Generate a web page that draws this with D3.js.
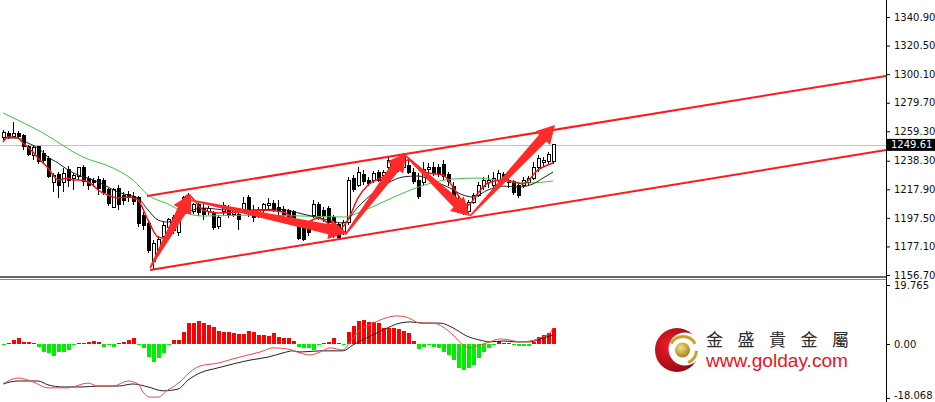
<!DOCTYPE html>
<html><head><meta charset="utf-8">
<script src="https://cdn.jsdelivr.net/npm/d3@7"></script>
<style>html,body{margin:0;padding:0;background:#fff;overflow:hidden}</style>
</head><body>
<svg id="c" width="935" height="402"></svg>
<script>
// ---------- DATA ----------
const open = [1255.2,1257.4,1255.9,1257.4,1256.6,1248.1,1241.7,1248.1,1243.8,1240.2,
1222.4,1228.1,1222.4,1231.7,1225.9,1226.7,1233.1,1225.9,1224.5,1225.2,
1224.5,1217.4,1205.2,1218.8,1213.8,1214.5,1213.1,1211.7,1199.5,1193.8,
1166.0,1174.5,1184.5,1190.3,1197.4,1187.4,1204.5,1213.8,1201.7,1206.7,
1204.5,1201.7,1201.0,1191.0,1201.7,1204.5,1200.2,1200.2,1202.4,1211.7,
1203.1,1199.5,1203.1,1206.0,1208.1,1205.2,1203.8,1202.4,1201.7,1193.8,
1192.4,1191.0,1199.5,1206.7,1203.1,1204.5,1198.1,1192.4,1187.4,1194.5,
1225.9,1220.9,1228.8,1224.5,1224.5,1230.2,1227.4,1233.1,1234.5,1231.7,
1233.1,1235.2,1230.2,1224.5,1222.4,1231.7,1233.8,1233.1,1235.9,1228.1,
1220.2,1210.2,1208.1,1201.7,1208.8,1213.8,1220.2,1222.4,1220.9,1224.5,
1228.1,1224.5,1223.1,1220.9,1220.9,1222.4,1225.9,1233.1,1236.7,1237.4,
1237.4];
const high = [1260.2,1259.5,1265.9,1259.5,1257.4,1249.5,1248.8,1248.8,1245.9,1241.7,
1229.5,1230.2,1233.1,1234.5,1229.5,1233.8,1235.2,1227.4,1225.9,1227.4,
1225.9,1218.8,1218.8,1220.9,1215.9,1216.7,1215.9,1213.1,1201.7,1195.2,
1181.7,1184.5,1194.5,1197.4,1199.5,1203.1,1213.1,1215.2,1208.1,1208.8,
1207.4,1206.0,1202.4,1199.5,1208.8,1206.7,1205.2,1203.1,1212.4,1213.8,
1206.7,1205.2,1208.1,1211.7,1210.2,1210.2,1206.0,1203.8,1203.1,1195.2,
1194.5,1192.4,1210.2,1208.8,1205.2,1206.0,1199.5,1194.5,1196.0,1226.7,
1228.1,1233.8,1231.7,1226.7,1230.9,1231.7,1231.7,1240.9,1238.8,1240.9,
1243.8,1240.2,1233.1,1229.5,1237.4,1236.7,1237.4,1235.9,1238.8,1230.2,
1223.1,1212.4,1210.2,1210.2,1215.2,1223.1,1226.7,1228.1,1230.2,1231.7,
1230.2,1226.7,1224.5,1223.1,1226.7,1227.4,1237.4,1242.4,1240.9,1244.5,
1250.2];
const low = [1253.1,1253.8,1254.5,1253.8,1245.9,1241.7,1238.8,1235.9,1236.7,1225.9,
1215.9,1211.7,1215.9,1219.5,1217.4,1224.5,1220.2,1217.4,1219.5,1213.8,
1213.8,1206.0,1204.5,1203.1,1206.7,1208.8,1206.7,1191.0,1188.8,1172.4,
1160.3,1170.3,1183.1,1188.8,1186.0,1184.5,1203.1,1200.2,1200.2,1198.8,
1196.0,1199.5,1188.8,1189.5,1199.5,1197.4,1198.1,1188.8,1201.0,1198.1,
1194.5,1197.4,1201.0,1203.1,1201.7,1197.4,1196.0,1193.8,1193.1,1181.7,
1181.0,1184.5,1197.4,1196.0,1194.5,1192.4,1183.1,1181.7,1185.3,1192.4,
1215.9,1219.5,1220.9,1220.2,1222.4,1223.1,1225.9,1231.7,1228.8,1230.2,
1231.7,1228.8,1221.7,1210.9,1220.2,1228.8,1227.4,1226.7,1224.5,1220.2,
1208.8,1202.4,1199.5,1199.5,1207.4,1212.4,1217.4,1218.8,1218.8,1223.1,
1224.5,1218.8,1213.8,1211.7,1218.8,1220.2,1224.5,1230.2,1234.5,1235.2,
1235.9];
const close = [1258.1,1255.2,1257.4,1255.9,1248.1,1242.4,1247.4,1237.4,1238.8,1226.7,
1227.4,1220.9,1229.5,1224.5,1227.4,1233.1,1223.1,1220.9,1222.4,1218.8,
1215.9,1208.1,1217.4,1206.7,1210.2,1211.7,1209.5,1193.8,1191.7,1174.5,
1179.5,1181.7,1191.7,1196.0,1188.8,1201.7,1211.7,1201.7,1206.7,1201.0,
1200.2,1204.5,1190.3,1197.4,1206.0,1199.5,1203.8,1196.0,1208.1,1201.0,
1197.4,1203.1,1206.7,1208.1,1203.1,1201.7,1199.5,1197.4,1196.0,1183.1,
1181.7,1187.4,1206.7,1197.4,1199.5,1194.5,1185.3,1183.8,1194.5,1224.5,
1218.1,1230.2,1223.1,1221.7,1229.5,1224.5,1230.2,1238.8,1230.2,1237.4,
1242.4,1230.2,1223.1,1212.4,1231.7,1233.8,1229.5,1229.5,1226.7,1223.1,
1210.2,1204.5,1201.0,1208.8,1213.8,1220.9,1224.5,1224.5,1225.9,1229.5,
1225.9,1222.4,1215.9,1213.8,1224.5,1225.9,1233.8,1240.2,1238.8,1242.4,
1249.61];

// moving averages (bar index, price)
const maRedIdx = [0,1,3,4,6,7,9,10,11,13,14,15,17,18,19,21,22,23,25,26,27,29,31,32,34,35,37,40,43,47,52,56,60,63,66,67,69,71,73,76,79,81,83,85,88,90,92,93,95,97,100,103,104,107,110];
const maRedVal = [1251.6,1255.2,1254.5,1250.9,1244.5,1240.2,1233.1,1228.1,1224.5,1225.9,1224.5,1224.5,1223.1,1220.9,1217.4,1213.8,1212.4,1211.7,1212.4,1211.7,1210.2,1196.0,1183.8,1183.1,1192.4,1203.1,1213.8,1203.1,1201.0,1201.7,1203.1,1201.7,1193.1,1197.4,1191.0,1188.8,1196.0,1211.7,1220.9,1226.7,1233.8,1238.8,1233.1,1229.5,1228.1,1219.5,1208.8,1206.7,1215.2,1222.4,1224.5,1222.4,1221.7,1231.7,1236.7];
const maBlackIdx = [0,3,5,7,9,11,13,15,17,19,21,23,25,27,29,31,33,35,37,40,45,50,55,60,65,68,71,74,77,80,83,86,89,92,94,97,100,103,106,108,110];
const maBlackVal = [1254.5,1254.5,1250.9,1247.4,1240.9,1236.7,1231.7,1228.1,1225.9,1223.1,1219.5,1215.9,1213.8,1211.7,1203.1,1196.0,1194.5,1197.4,1201.7,1204.5,1203.1,1203.1,1203.8,1200.2,1196.0,1193.8,1205.2,1215.2,1222.4,1226.7,1227.4,1223.8,1219.5,1213.8,1212.4,1217.4,1220.2,1219.5,1221.7,1225.9,1230.2];
const maGreenIdx = [0,8,16,22,26,29,33,36,40,50,60,68,72,76,80,85,90,95,100,105,110];
const maGreenVal = [1272.4,1258.1,1240.9,1233.1,1224.5,1213.8,1207.4,1201.7,1198.8,1199.5,1198.8,1198.1,1202.4,1208.8,1215.2,1221.7,1225.2,1225.9,1223.8,1222.4,1223.8];

const lastPrice = 1249.61;
const priceTicks = [1340.90,1320.50,1300.10,1279.70,1259.30,1238.30,1217.90,1197.50,1177.10,1156.70];

// trend channel and arrows (bar index, price)
const channelUpper = [[28.8,1213.1],[176.6,1298.8]];
const channelLower = [[29.4,1160.3],[176.6,1245.9]];
const arrowPaths = [
  [[29.4,1161.7],[37.6,1214.5]],
  [[37.4,1210.2],[68.8,1186.7]],
  [[68.4,1185.3],[80.6,1243.8]],
  [[80.4,1242.4],[93.4,1198.8]],
  [[93.4,1198.8],[110.4,1263.8]]
];

// MACD panel
const macdHist = [-0.4,0.4,1.3,2.0,0.8,0.8,0.4,-0.9,-2.6,-2.9,
-4.0,-2.6,-2.6,-2.0,-0.4,0.4,0.4,0.7,1.1,0.7,
-0.9,-0.4,-0.9,0.4,0.8,1.3,1.9,-0.4,-1.5,-4.5,
-5.9,-4.8,-3.1,-0.4,1.3,1.3,4.1,7.1,7.1,7.7,
7.1,6.4,5.8,4.5,4.1,4.1,3.6,3.2,3.2,4.4,
3.9,3.0,3.0,2.8,3.8,2.5,2.1,1.9,1.1,-0.9,
-1.5,-1.5,-2.0,-0.4,0.4,0.8,1.9,0.4,-0.4,4.1,
6.1,7.8,8.0,7.5,7.3,7.1,5.2,5.2,5.5,4.9,
4.5,3.6,1.1,-1.8,-0.9,-0.4,-0.9,-1.5,-2.6,-3.7,
-5.4,-8.1,-8.7,-8.1,-7.0,-4.8,-2.6,-1.5,-0.4,1.0,
0.4,0.4,-0.4,-0.7,-0.7,-0.7,0.8,2.5,3.0,3.8,
5.5];
const macdRedIdx = [0,3,6,9,13,17,19,22,25,27,28,29.4,31,33,34,35.4,37.4,39.4,43,46,49,51.4,54,57,59.4,61.4,63.4,65.4,68,69.4,71.4,73.4,76,78.7,80.7,82,83.4,86,88,90,92,93.4,95.4,97.4,99.4,101.4,103.4,105.4,107.4,109.4,110];
const macdRedVal = [-13.4,-11.4,-12.7,-14.7,-14.7,-13.1,-14.1,-14.1,-12.4,-13.4,-16.1,-17.8,-17.8,-15.4,-14.4,-12.7,-9.4,-7.4,-6.4,-5.0,-3.7,-2.7,-1.3,-1.7,-3.0,-3.7,-2.7,-1.3,-2.0,0.7,4.7,6.4,8.4,9.4,9.0,8.0,7.0,7.0,5.7,3.0,-0.3,-1.3,-0.3,0.7,1.7,1.3,0.7,1.0,2.0,3.7,5.4];
const macdBlackIdx = [0,3,7,9,12,16,19,23,26,29,32,35,37,39.4,43,46,49.4,53,56,58,59.4,63.4,68,70,72.7,76,79.4,81.4,84,87.4,90,92.7,95.4,97.4,100,102.7,105.4,108,110];
const macdBlackVal = [-13.4,-12.4,-12.4,-13.7,-14.4,-14.4,-14.1,-14.1,-13.4,-14.4,-15.7,-15.1,-12.1,-9.7,-8.0,-6.7,-5.4,-4.4,-3.0,-2.3,-2.7,-2.3,-2.3,-0.3,2.0,4.7,7.0,7.4,7.0,7.0,5.4,2.7,1.3,0.7,1.0,0.7,0.7,2.0,3.0];
const macdTicks = [19.765, 0, -18.068];
const macdTickLabels = ["19.765","0.00","-18.068"];

// ---------- DRAW ----------
const svg = d3.select("#c");
const W = 935, axisX = 886, mainBottom = 276;
const x = d3.scaleLinear().domain([0,110]).range([3,553]);
const y = d3.scaleLinear().domain([1156.7,1340.9]).range([275,17]);
const ym = d3.scaleLinear().domain([-18.068,19.765]).range([397.9,285]);

const defs = svg.append("defs");
defs.append("clipPath").attr("id","mainClip").append("rect").attr("x",0).attr("y",0).attr("width",axisX).attr("height",mainBottom);
defs.append("clipPath").attr("id","macdClip").append("rect").attr("x",0).attr("y",281).attr("width",axisX).attr("height",121);

const main = svg.append("g").attr("clip-path","url(#mainClip)");

// last price line
main.append("line").attr("x1",0).attr("x2",axisX).attr("y1",Math.round(y(lastPrice))+0.5).attr("y2",Math.round(y(lastPrice))+0.5)
  .attr("stroke","#c0c0c0").attr("stroke-width",1);

// candles
const idx = d3.range(close.length);
const cg = main.append("g").attr("shape-rendering","crispEdges");
cg.selectAll("line.w").data(idx).join("line")
  .attr("x1",i=>Math.round(x(i))+0.5).attr("x2",i=>Math.round(x(i))+0.5)
  .attr("y1",i=>y(high[i])).attr("y2",i=>y(low[i]))
  .attr("stroke","#000").attr("stroke-width",1);
cg.selectAll("rect.b").data(idx).join("rect")
  .attr("x",i=>Math.round(x(i))-1+0.5).attr("width",3)
  .attr("y",i=>y(Math.max(open[i],close[i])))
  .attr("height",i=>Math.max(1,Math.abs(y(open[i])-y(close[i]))))
  .attr("fill",i=>close[i]>=open[i]?"#fff":"#000")
  .attr("stroke","#000").attr("stroke-width",1);

// moving averages
function maLine(ix, vals, sc){
  const pts = ix.map((d,k)=>[x(d), sc(vals[k])]);
  return d3.line().curve(d3.curveMonotoneX)(pts);
}
main.append("path").attr("d",maLine(maGreenIdx,maGreenVal,y)).attr("fill","none").attr("stroke","#3ec43e").attr("stroke-width",1);
main.append("path").attr("d",maLine(maBlackIdx,maBlackVal,y)).attr("fill","none").attr("stroke","#222").attr("stroke-width",1);
main.append("path").attr("d",maLine(maRedIdx,maRedVal,y)).attr("fill","none").attr("stroke","#ff1010").attr("stroke-width",1.5);

// channel lines
[channelUpper, channelLower].forEach(c=>{
  main.append("line").attr("x1",x(c[0][0])).attr("y1",y(c[0][1])).attr("x2",x(c[1][0])).attr("y2",y(c[1][1]))
    .attr("stroke","#ff1a1a").attr("stroke-width",2);
});

// arrows
function arrowPoly(x1,y1,x2,y2){
  const tw=0.8, bw=5, hl=18, hw=10;
  const dx=x2-x1, dy=y2-y1, L=Math.hypot(dx,dy);
  const ux=dx/L, uy=dy/L, nx=-uy, ny=ux;
  const bx=x2-ux*hl, by=y2-uy*hl;
  return [[x1+nx*tw,y1+ny*tw],[bx+nx*bw,by+ny*bw],[bx+nx*hw,by+ny*hw],[x2,y2],[bx-nx*hw,by-ny*hw],[bx-nx*bw,by-ny*bw],[x1-nx*tw,y1-ny*tw]];
}
main.selectAll("polygon.arrow").data(arrowPaths).join("polygon")
  .attr("points",a=>arrowPoly(x(a[0][0]),y(a[0][1]),x(a[1][0]),y(a[1][1])).map(p=>p.join(",")).join(" "))
  .attr("fill","#ff2b2b");

// separator
svg.append("rect").attr("x",0).attr("y",276).attr("width",axisX).attr("height",2).attr("fill","#666");
svg.append("rect").attr("x",0).attr("y",279).attr("width",axisX).attr("height",1).attr("fill","#888");

// MACD panel
const mg = svg.append("g").attr("clip-path","url(#macdClip)");
mg.append("g").attr("shape-rendering","crispEdges").selectAll("rect").data(idx).join("rect")
  .attr("x",i=>Math.round(x(i))-1.5).attr("width",4)
  .attr("y",i=>macdHist[i]>=0?ym(macdHist[i]):ym(0))
  .attr("height",i=>Math.max(1,Math.abs(ym(macdHist[i])-ym(0))))
  .attr("fill",i=>macdHist[i]>=0?"#ff0000":"#00ee00");
mg.append("path").attr("d",maLine(macdBlackIdx,macdBlackVal,ym)).attr("fill","none").attr("stroke","#222").attr("stroke-width",1);
mg.append("path").attr("d",maLine(macdRedIdx,macdRedVal,ym)).attr("fill","none").attr("stroke","#f04848").attr("stroke-width",1);

// axes
svg.append("line").attr("x1",axisX+0.5).attr("x2",axisX+0.5).attr("y1",0).attr("y2",402).attr("stroke","#000").attr("stroke-width",1);
const pa = svg.append("g").attr("transform",`translate(${axisX+1},0)`)
  .call(d3.axisRight(y).tickValues(priceTicks).tickFormat(d3.format(".2f")).tickSize(3).tickPadding(4));
pa.select(".domain").remove();
pa.selectAll("text").attr("font-family","DejaVu Sans, Verdana, sans-serif").attr("font-size",10).attr("fill","#111");
pa.selectAll("line").attr("stroke","#000");

const ma = svg.append("g").attr("transform",`translate(${axisX+1},0)`)
  .call(d3.axisRight(ym).tickValues(macdTicks).tickFormat((d,k)=>macdTickLabels[k]).tickSize(3).tickPadding(4));
ma.select(".domain").remove();
ma.selectAll("text").attr("font-family","DejaVu Sans, Verdana, sans-serif").attr("font-size",10).attr("fill","#111");
ma.selectAll("line").attr("stroke","#000");
ma.selectAll(".tick").filter(d=>d<0).select("text").attr("dy","0.1em");

// last price label
const ly = y(lastPrice);
svg.append("rect").attr("x",axisX+1).attr("y",ly-6).attr("width",W-axisX-1).attr("height",12).attr("fill","#000");
svg.append("text").attr("x",axisX+5).attr("y",ly).attr("dy","0.35em").text(d3.format(".2f")(lastPrice))
  .attr("font-family","DejaVu Sans, Verdana, sans-serif").attr("font-size",10).attr("fill","#fff");

// logo
const lg = svg.append("g");
const rg = defs.append("radialGradient").attr("id","redG").attr("cx","35%").attr("cy","40%").attr("r","70%");
rg.append("stop").attr("offset","0%").attr("stop-color","#f2202a");
rg.append("stop").attr("offset","100%").attr("stop-color","#8c0410");
const gg = defs.append("radialGradient").attr("id","goldG").attr("cx","40%").attr("cy","35%").attr("r","65%");
gg.append("stop").attr("offset","0%").attr("stop-color","#f5e08a");
gg.append("stop").attr("offset","100%").attr("stop-color","#a98212");
lg.append("circle").attr("cx",677).attr("cy",350).attr("r",22).attr("fill","url(#redG)");
lg.append("circle").attr("cx",685).attr("cy",349).attr("r",16.5).attr("fill","#fff");
const arc = d3.arc();
lg.append("path").attr("transform","translate(683,350)")
  .attr("d",arc({innerRadius:12,outerRadius:15,startAngle:-0.34*Math.PI,endAngle:0.35*Math.PI}))
  .attr("fill","#c9a227");
lg.append("path").attr("transform","translate(683,350)")
  .attr("d",arc({innerRadius:12,outerRadius:15,startAngle:0.52*Math.PI,endAngle:0.88*Math.PI}))
  .attr("fill","#c9a227");
lg.append("circle").attr("cx",682.5).attr("cy",350).attr("r",7.5).attr("fill","url(#goldG)");
lg.append("text").attr("x",706).attr("y",345.5).text("金盛貴金屬")
  .attr("font-family","Noto Sans CJK TC, Noto Sans CJK SC, sans-serif").attr("font-size",17).attr("letter-spacing",14.5).attr("fill","#2a2a2a");
lg.append("text").attr("x",706).attr("y",367).text("www.golday.com")
  .attr("font-family","Liberation Sans, Arial, sans-serif").attr("font-size",17.5).attr("textLength",142).attr("lengthAdjust","spacingAndGlyphs").attr("fill","#e8141c");
</script>
</body></html>
